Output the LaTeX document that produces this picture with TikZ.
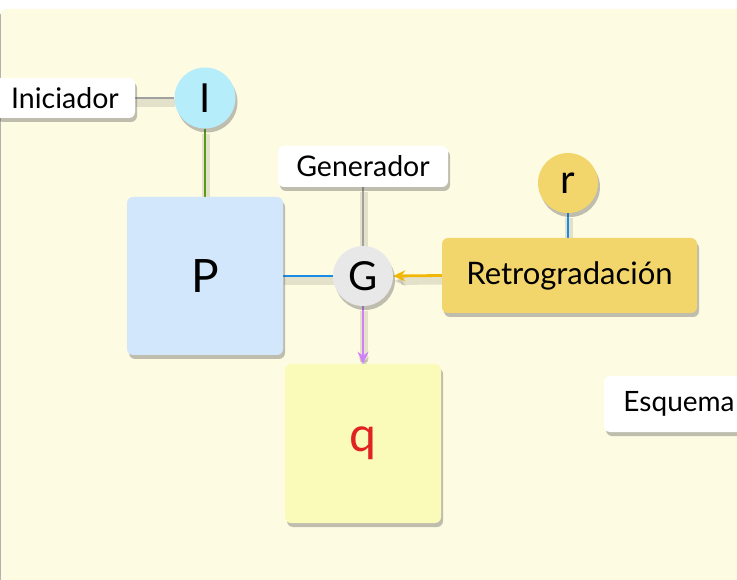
\documentclass[tikz,border=0pt]{standalone}
\usepackage{fontspec}
\setmainfont{Lato}
\usetikzlibrary{shadows,arrows.meta}
\pgfdeclarelayer{bottom}
\pgfdeclarelayer{lines}
\pgfsetlayers{bottom,lines,main}
\definecolor{bgcol}{HTML}{FEFBE3}
\definecolor{icol}{HTML}{B5EDFB}
\definecolor{pcol}{HTML}{D2E7FB}
\definecolor{gcol}{HTML}{E8E8E8}
\definecolor{rcol}{HTML}{F2D66C}
\definecolor{qcol}{HTML}{FBFBB9}
\definecolor{qtext}{HTML}{E02222}
\definecolor{linegray}{HTML}{A0A0A0}
\definecolor{linegreen}{HTML}{5A9A1A}
\definecolor{lineblue}{HTML}{1A8CE8}
\definecolor{lineorange}{HTML}{F2B705}
\definecolor{linepurple}{HTML}{D080F8}
\tikzset{
  shad/.style={drop shadow={shadow xshift=2pt,shadow yshift=-4pt,opacity=0.35,fill=black!70}},
  box/.style={shad,rounded corners=6pt,inner sep=0pt,align=center},
  lbl/.style={box,fill=white,font=\fontsize{28.5}{32}\selectfont},
  circ/.style={shad,circle,inner sep=0pt,minimum size=61pt},
  conn/.style={line width=2.8pt,preaction={draw=black,opacity=0.1,line width=8pt,transform canvas={shift={(1pt,-5pt)}}}},
  tip/.style={-{Stealth[length=12pt,width=11pt,inset=4pt]}}
}
\begin{document}
\begin{tikzpicture}[x=1pt,y=-1pt]
\useasboundingbox (0,0) rectangle (737,580);
\clip (0,0) rectangle (737,580);
\begin{pgfonlayer}{bottom}
\fill[bgcol,rounded corners=6pt] (0,9) rectangle (760,600);
\draw[black!30,line width=0.8pt] (0.3,14) -- (0.3,580);
\end{pgfonlayer}
% nodes
\node[lbl,minimum width=140pt,minimum height=40pt] (ini) at (65,98) {Iniciador};
\node[circ,fill=icol,font=\fontsize{40}{44}\selectfont] (I) at (205,98) {I};
\node[box,fill=pcol,minimum width=156pt,minimum height=158pt,font=\fontsize{46}{50}\selectfont] (P) at (205,276) {P};
\node[lbl,minimum width=170pt,minimum height=41pt] (gen) at (363,166.5) {Generador};
\node[circ,fill=gcol,minimum size=60pt,font=\fontsize{40}{44}\selectfont] (G) at (363,276) {G};
\node[box,fill=rcol,minimum width=255pt,minimum height=75pt,font=\fontsize{31}{35}\selectfont] (ret) at (569.5,275.5) {Retrogradación};
\node[circ,fill=rcol,minimum size=60pt,font=\fontsize{40}{44}\selectfont] (r) at (568,183) {r};
\node[box,fill=qcol,minimum width=156pt,minimum height=159pt,font=\fontsize{48}{52}\selectfont,text=qtext] (q) at (363,443.5) {q};
\node[lbl,minimum width=150pt,minimum height=56pt,font=\fontsize{28}{32}\selectfont] (esq) at (679,404) {Esquema};
% connectors
\begin{pgfonlayer}{lines}
\draw[conn,linegray] (ini.east) -- (I.west);
\draw[conn,linegreen] (I.south) -- (P.north);
\draw[conn,linegray] (gen.south) -- (G.north);
\draw[conn,lineblue] (P.east) -- (G.west);
\draw[conn,lineblue] (r.south) -- (ret.north -| r.south);
\draw[conn,lineorange,tip] (ret.west) -- (G.east);
\draw[conn,linepurple,tip] (G.south) -- (q.north);
\end{pgfonlayer}
\end{tikzpicture}
\end{document}
